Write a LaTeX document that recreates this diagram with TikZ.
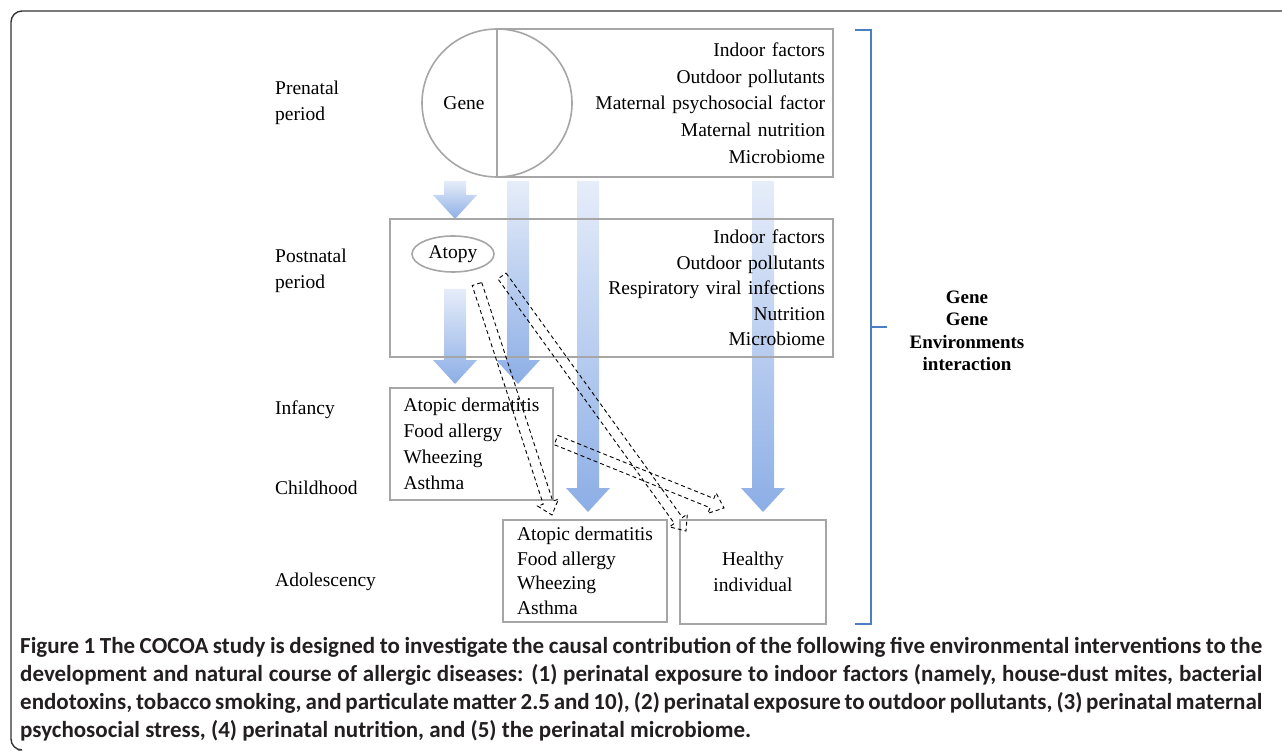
\documentclass[tikz,border=0pt]{standalone}
\usepackage{fontspec}
\setmainfont{Liberation Serif}
\newfontfamily\tnr{Liberation Serif}
\newfontfamily\capfont{Carlito}
\usetikzlibrary{shapes.geometric,calc}
\definecolor{boxgray}{HTML}{A6A6A6}
\definecolor{arrtop}{HTML}{E6EDF9}
\definecolor{arrbot}{HTML}{8CAEE6}
\definecolor{brblue}{HTML}{4A7FC1}
\definecolor{captext}{HTML}{231F20}
\newcommand\bluearrow[3]{%
  \shade[top color=arrtop, bottom color=arrbot]
    (#1-11,#2) -- (#1+11,#2) -- (#1+11,#3-24) -- (#1+22,#3-24) -- (#1,#3)
    -- (#1-22,#3-24) -- (#1-11,#3-24) -- cycle;}
\newcommand\dasharrow[2]{%
  \coordinate (#2h) at ($(#2)!13pt!(#1)$);
  \draw[dashbox] ($(#1)!5pt!90:(#2)$) -- ($(#2h)!5pt!90:(#2)$) -- ($(#2h)!11pt!90:(#2)$)
    -- (#2) -- ($(#2h)!11pt!-90:(#2)$) -- ($(#2h)!5pt!-90:(#2)$) -- ($(#1)!5pt!-90:(#2)$) -- cycle;}
\tikzset{
  box/.style={draw=boxgray, line width=1.6pt, inner sep=0pt},
  dtext/.style={font=\tnr\fontsize{19.5}{26}\selectfont, inner sep=0pt},
  dashbox/.style={draw=black, line width=0.9pt, dash pattern=on 4pt off 3pt},
  captionline/.style={font=\capfont\bfseries\fontsize{23}{28}\selectfont, text=captext, anchor=west, inner sep=0pt},
}
\begin{document}
\begin{tikzpicture}[x=1pt,y=-1pt]
\useasboundingbox (0,0) rectangle (1282,751);
% frame
\draw[line width=1.4pt, draw=black!80, rounded corners=11pt] (1282,11) -- (11,11) -- (11,750) -- (18,750);

% big gradient arrows
\bluearrow{455}{181}{219}
\bluearrow{518}{181}{384}
\bluearrow{588}{181}{512}
\bluearrow{763}{181}{512}
\bluearrow{455}{289}{384}

% prenatal
\node[box, ellipse, minimum width=150pt, minimum height=148pt] (genecirc) at (497,103) {};
\node[box, rectangle, minimum width=336pt, minimum height=148pt, text width=320pt, align=right,
      font=\tnr\fontsize{19.5}{26.7}\selectfont] (prenv) at (665,103)
  {Indoor factors\\Outdoor pollutants\\Maternal psychosocial  factor\\Maternal nutrition\\Microbiome};
\node[dtext] (gene) at (464,103) {Gene};
\node[dtext, anchor=west, align=left] (prenatal) at (275,103) {Prenatal\\period};

% postnatal
\node[box, rectangle, minimum width=443pt, minimum height=138pt, text width=427pt, align=right,
      font=\tnr\fontsize{19.5}{25.5}\selectfont] (postenv) at (611.5,288)
  {Indoor factors\\Outdoor pollutants\\Respiratory viral infections\\Nutrition\\Microbiome};
\node[box, ellipse, minimum width=82pt, minimum height=36pt, dtext] (atopy) at (453,254) {Atopy};
\node[dtext, anchor=west, align=left] (postnatal) at (275,271) {Postnatal\\period};

% outcome boxes
\node[box, rectangle, minimum width=163pt, minimum height=112pt, align=left,
      font=\tnr\fontsize{19.5}{26}\selectfont] (infbox) at (471.5,444)
  {Atopic dermatitis\\Food allergy\\Wheezing\\Asthma};
\node[box, rectangle, minimum width=164pt, minimum height=102pt, align=left,
      font=\tnr\fontsize{19.5}{24.5}\selectfont] (adolbox) at (585,571)
  {Atopic dermatitis\\Food allergy\\Wheezing\\Asthma};
\node[box, rectangle, minimum width=146pt, minimum height=104pt, align=center,
      font=\tnr\fontsize{19.5}{26}\selectfont] (healthy) at (753,572) {Healthy\\individual};

\node[dtext, anchor=west] (infancy) at (275,410) {Infancy};
\node[dtext, anchor=west] (childhood) at (275,488) {Childhood};
\node[dtext, anchor=west] (adolescency) at (275,582) {Adolescency};

% dashed arrows
\coordinate (dAs) at (477,284);
\coordinate (dAe) at (552,515);
\coordinate (dBs) at (502,276);
\coordinate (dBe) at (686,531);
\coordinate (dCs) at (556,440);
\coordinate (dCe) at (724,508);
\dasharrow{dAs}{dAe}
\dasharrow{dBs}{dBe}
\dasharrow{dCs}{dCe}

% bracket
\coordinate (brtop) at (871,30);
\coordinate (brbot) at (871,624);
\coordinate (brmid) at (871,327);
\draw[brblue, line width=1.6pt] ($(brtop)+(-16,0)$) -- (brtop) -- (brbot) -- ($(brbot)+(-16,0)$);
\draw[brblue, line width=1.6pt] (brmid) -- ($(brmid)+(16,0)$);
\node[font=\tnr\bfseries\fontsize{19}{22.4}\selectfont, align=center, inner sep=0pt] (gei) at (967,331)
  {Gene\\Gene\\Environments\\interaction};

% caption
\node[captionline] (cap1) at (20,647) {\makebox[1242pt][s]{\textbf{Figure 1} The COCOA study is designed to investigate the causal contribution of the following five environmental interventions to the}};
\node[captionline] (cap2) at (20,675) {\makebox[1242pt][s]{development and natural course of allergic diseases: (1) perinatal exposure to indoor factors (namely, house-dust mites, bacterial}};
\node[captionline] (cap3) at (20,703) {\makebox[1242pt][s]{endotoxins, tobacco smoking, and particulate matter 2.5 and 10), (2) perinatal exposure to outdoor pollutants, (3) perinatal maternal}};
\node[captionline] (cap4) at (20,731) {psychosocial stress, (4) perinatal nutrition, and (5) the perinatal microbiome.};
\end{tikzpicture}
\end{document}
